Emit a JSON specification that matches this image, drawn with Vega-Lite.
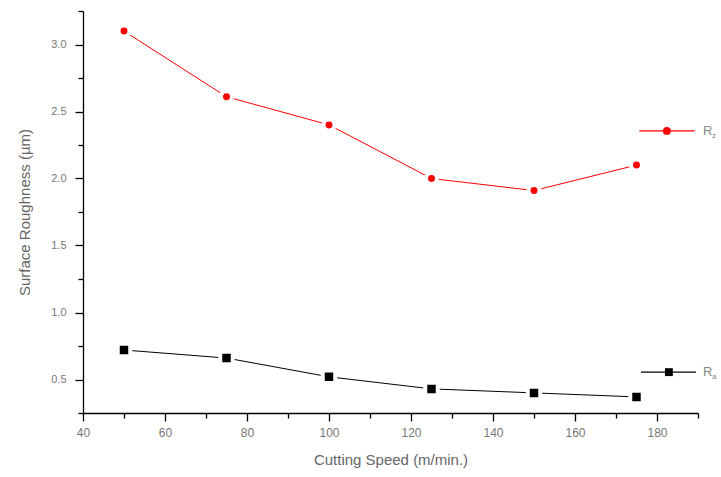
{
  "$schema": "https://vega.github.io/schema/vega-lite/v6.json",
  "autosize": "none",
  "width": 615,
  "height": 402,
  "padding": {"left": 83, "top": 11, "right": 23, "bottom": 64},
  "background": "white",
  "config": {"view": {"stroke": null}, "font": "Liberation Sans"},
  "resolve": {"axis": {"x": "independent", "y": "independent"}},
  "datasets": {
    "main": [
      {"speed": 50, "roughness": 3.10, "series": "Rz"},
      {"speed": 75, "roughness": 2.61, "series": "Rz"},
      {"speed": 100, "roughness": 2.40, "series": "Rz"},
      {"speed": 125, "roughness": 2.00, "series": "Rz"},
      {"speed": 150, "roughness": 1.91, "series": "Rz"},
      {"speed": 175, "roughness": 2.10, "series": "Rz"},
      {"speed": 50, "roughness": 0.72, "series": "Ra"},
      {"speed": 75, "roughness": 0.66, "series": "Ra"},
      {"speed": 100, "roughness": 0.52, "series": "Ra"},
      {"speed": 125, "roughness": 0.43, "series": "Ra"},
      {"speed": 150, "roughness": 0.40, "series": "Ra"},
      {"speed": 175, "roughness": 0.37, "series": "Ra"}
    ],
    "legend": [
      {"series": "Rz", "x1": 175.7, "x2": 189.2, "xm": 182.4, "xt": 191.2, "y": 2.355, "label": "R", "sub": "z"},
      {"series": "Ra", "x1": 176.1, "x2": 189.5, "xm": 182.9, "xt": 191.2, "y": 0.555, "label": "R", "sub": "a"}
    ]
  },
  "layer": [
    {
      "data": {"name": "main"},
      "mark": {"type": "line", "strokeWidth": 1},
      "encoding": {
        "x": {
          "field": "speed", "type": "quantitative",
          "scale": {"domain": [40, 190], "nice": false, "zero": false},
          "axis": {
            "orient": "bottom",
            "title": "Cutting Speed (m/min.)",
            "values": [40, 60, 80, 100, 120, 140, 160, 180],
            "grid": false,
            "domainColor": "#000000", "domainWidth": 1.3,
            "tickColor": "#000000", "tickWidth": 1.3, "tickSize": 8,
            "labelColor": "#777777", "labelFontSize": 12, "labelPadding": 6,
            "labelFlush": false,
            "titleColor": "#666666", "titleFontSize": 15, "titleFontWeight": "normal", "titlePadding": 14
          }
        },
        "y": {
          "field": "roughness", "type": "quantitative",
          "scale": {"domain": [0.25, 3.25], "nice": false, "zero": false},
          "axis": {
            "orient": "left",
            "title": "Surface Roughness (µm)",
            "values": [0.5, 1.0, 1.5, 2.0, 2.5, 3.0],
            "format": ".1f",
            "grid": false,
            "domainColor": "#000000", "domainWidth": 1.3,
            "tickColor": "#000000", "tickWidth": 1.3, "tickSize": 8,
            "labelColor": "#777777", "labelFontSize": 11, "labelPadding": 9,
            "labelFlush": false,
            "titleColor": "#666666", "titleFontSize": 15, "titleFontWeight": "normal", "titlePadding": 18
          }
        },
        "color": {"field": "series", "type": "nominal", "scale": {"domain": ["Rz", "Ra"], "range": ["#ff0000", "#000000"]}, "legend": null}
      }
    },
    {
      "data": {"name": "main"},
      "mark": {"type": "point", "filled": true, "opacity": 1, "stroke": "white", "strokeWidth": 4},
      "encoding": {
        "x": {"field": "speed", "type": "quantitative",
          "axis": {"orient": "bottom", "values": [50, 70, 90, 110, 130, 150, 170, 190], "labels": false, "domain": false, "grid": false, "title": null, "tickColor": "#000000", "tickWidth": 1.3, "tickSize": 5}},
        "y": {"field": "roughness", "type": "quantitative",
          "axis": {"orient": "left", "values": [0.25, 0.75, 1.25, 1.75, 2.25, 2.75, 3.25], "labels": false, "domain": false, "grid": false, "title": null, "tickColor": "#000000", "tickWidth": 1.3, "tickSize": 5}},
        "color": {"field": "series", "type": "nominal", "legend": null},
        "shape": {"field": "series", "type": "nominal", "scale": {"domain": ["Rz", "Ra"], "range": ["circle", "square"]}, "legend": null},
        "size": {"field": "series", "type": "nominal", "scale": {"domain": ["Rz", "Ra"], "range": [120, 156]}, "legend": null}
      }
    },
    {
      "data": {"name": "legend"},
      "mark": {"type": "rule", "strokeWidth": 1.3},
      "encoding": {
        "x": {"field": "x1", "type": "quantitative", "axis": null},
        "x2": {"field": "x2"},
        "y": {"field": "y", "type": "quantitative", "axis": null},
        "color": {"field": "series", "type": "nominal", "legend": null}
      }
    },
    {
      "data": {"name": "legend"},
      "mark": {"type": "point", "filled": true, "opacity": 1, "size": 62},
      "encoding": {
        "x": {"field": "xm", "type": "quantitative", "axis": null},
        "y": {"field": "y", "type": "quantitative", "axis": null},
        "color": {"field": "series", "type": "nominal", "legend": null},
        "shape": {"field": "series", "type": "nominal", "legend": null}
      }
    },
    {
      "data": {"name": "legend"},
      "mark": {"type": "text", "align": "left", "baseline": "middle", "fontSize": 13, "color": "#888888"},
      "encoding": {
        "x": {"field": "xt", "type": "quantitative", "axis": null},
        "y": {"field": "y", "type": "quantitative", "axis": null},
        "text": {"field": "label"}
      }
    },
    {
      "data": {"name": "legend"},
      "mark": {"type": "text", "align": "left", "baseline": "middle", "fontSize": 8, "dx": 9, "dy": 5, "color": "#888888"},
      "encoding": {
        "x": {"field": "xt", "type": "quantitative", "axis": null},
        "y": {"field": "y", "type": "quantitative", "axis": null},
        "text": {"field": "sub"}
      }
    }
  ]
}
